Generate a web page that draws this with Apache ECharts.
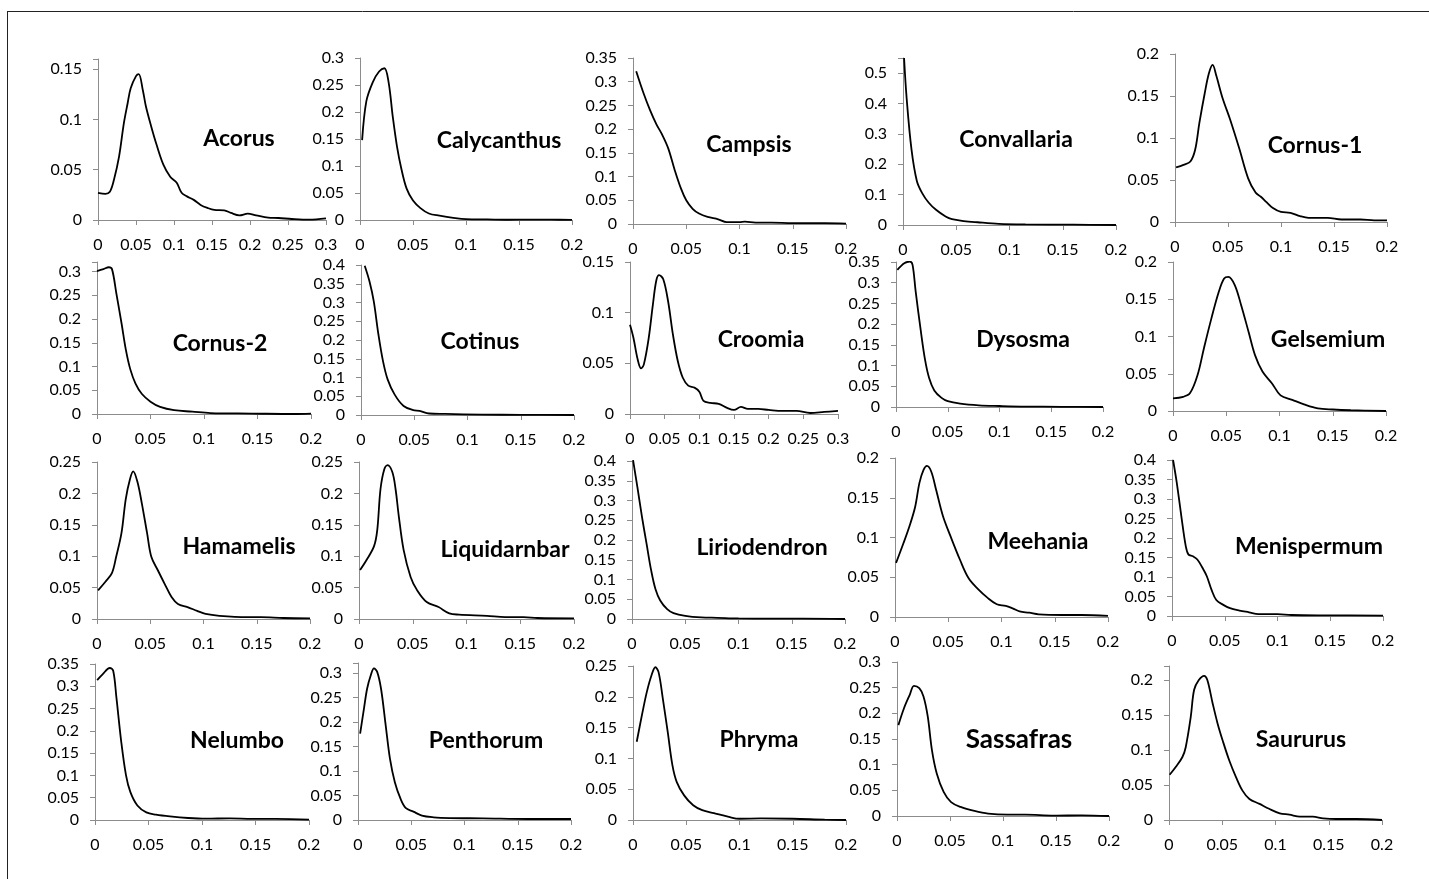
<!DOCTYPE html>
<html>
<head>
<meta charset="utf-8">
<script src="https://cdn.jsdelivr.net/npm/echarts@6/dist/echarts.min.js"></script>
<style>
  html, body { margin: 0; padding: 0; background: #fff; }
  #chart { width: 1429px; height: 879px; }
</style>
</head>
<body>
<div id="chart"></div>
<script>
// Panel names, in reading order (5 per row)
const names = [
  'Acorus', 'Calycanthus', 'Campsis', 'Convallaria', 'Cornus-1',
  'Cornus-2', 'Cotinus', 'Croomia', 'Dysosma', 'Gelsemium',
  'Hamamelis', 'Liquidarnbar', 'Liriodendron', 'Meehania', 'Menispermum',
  'Nelumbo', 'Penthorum', 'Phryma', 'Sassafras', 'Saururus'
];

// Axis ranges per panel: x max, y max, y tick step
const xMax  = [0.3, 0.2, 0.2, 0.2, 0.2,  0.2, 0.2, 0.3, 0.2, 0.2,  0.2, 0.2, 0.2, 0.2, 0.2,  0.2, 0.2, 0.2, 0.2, 0.2];
const yMax  = [0.16, 0.3, 0.35, 0.55, 0.2,  0.32, 0.4, 0.15, 0.35, 0.2,  0.25, 0.25, 0.4, 0.2, 0.4,  0.35, 0.32, 0.25, 0.3, 0.22];
const yStep = [0.05, 0.05, 0.05, 0.1, 0.05,  0.05, 0.05, 0.05, 0.05, 0.05,  0.05, 0.05, 0.05, 0.05, 0.05,  0.05, 0.05, 0.05, 0.05, 0.05];

// Distribution curves, [x, density] pairs
const acorus = [[0,0.027],[0.0098,0.026],[0.0156,0.028],[0.021,0.04],[0.0277,0.063],[0.034,0.096],[0.039,0.116],[0.043,0.131],[0.05,0.143],[0.0536,0.145],[0.059,0.129],[0.063,0.113],[0.07,0.093],[0.077,0.075],[0.086,0.055],[0.095,0.043],[0.1036,0.037],[0.11,0.027],[0.117,0.0235],[0.126,0.02],[0.135,0.015],[0.144,0.012],[0.153,0.01],[0.166,0.0096],[0.175,0.007],[0.186,0.0046],[0.197,0.0063],[0.208,0.0046],[0.224,0.0023],[0.2375,0.002],[0.255,0.001],[0.278,0.0003],[0.3,0.0017]];
const calycanthus = [[0.002,0.148],[0.006,0.22],[0.012,0.255],[0.018,0.275],[0.023,0.281],[0.027,0.255],[0.031,0.19],[0.035,0.135],[0.039,0.095],[0.044,0.058],[0.05,0.036],[0.057,0.022],[0.065,0.012],[0.075,0.008],[0.088,0.004],[0.1,0.0015],[0.12,0.001],[0.14,0.0005],[0.16,0.0008],[0.18,0.0006],[0.2,0.0003]];
const campsis = [[0.003,0.322],[0.01,0.275],[0.016,0.24],[0.022,0.21],[0.027,0.19],[0.033,0.16],[0.039,0.115],[0.045,0.075],[0.05,0.05],[0.056,0.032],[0.062,0.022],[0.07,0.015],[0.08,0.01],[0.088,0.004],[0.1,0.004],[0.105,0.005],[0.115,0.003],[0.13,0.003],[0.15,0.002],[0.18,0.002],[0.2,0.001]];
const convallaria = [[0.001,0.55],[0.0035,0.414],[0.008,0.248],[0.013,0.145],[0.018,0.105],[0.024,0.074],[0.031,0.05],[0.04,0.028],[0.046,0.019],[0.057,0.013],[0.07,0.009],[0.09,0.004],[0.115,0.002],[0.16,0.001],[0.2,0]];
const cornus1 = [[0.001,0.065],[0.008,0.068],[0.0145,0.072],[0.019,0.086],[0.023,0.118],[0.028,0.153],[0.032,0.177],[0.0355,0.187],[0.039,0.174],[0.045,0.147],[0.052,0.122],[0.0605,0.088],[0.069,0.052],[0.076,0.035],[0.081,0.03],[0.086,0.024],[0.092,0.017],[0.1,0.012],[0.109,0.011],[0.118,0.007],[0.126,0.005],[0.144,0.005],[0.157,0.003],[0.175,0.003],[0.188,0.002],[0.2,0.002]];
const cornus2 = [[0,0.301],[0.006,0.305],[0.011,0.309],[0.014,0.305],[0.018,0.255],[0.023,0.19],[0.027,0.135],[0.031,0.095],[0.036,0.064],[0.042,0.042],[0.05,0.026],[0.059,0.015],[0.072,0.008],[0.089,0.005],[0.106,0.002],[0.145,0.001],[0.184,0],[0.2,0.001]];
const cotinus = [[0.0035,0.398],[0.008,0.356],[0.012,0.303],[0.0164,0.214],[0.0207,0.143],[0.025,0.095],[0.0315,0.055],[0.04,0.024],[0.049,0.013],[0.055,0.011],[0.064,0.004],[0.079,0.003],[0.114,0.001],[0.15,0.0005],[0.2,0]];
const croomia = [[0,0.088],[0.005,0.075],[0.011,0.054],[0.016,0.045],[0.02,0.049],[0.027,0.075],[0.033,0.108],[0.038,0.132],[0.042,0.137],[0.048,0.133],[0.055,0.111],[0.062,0.078],[0.069,0.052],[0.076,0.036],[0.084,0.028],[0.093,0.026],[0.1,0.022],[0.106,0.013],[0.116,0.011],[0.128,0.01],[0.14,0.006],[0.15,0.004],[0.16,0.007],[0.17,0.005],[0.185,0.005],[0.2,0.004],[0.22,0.003],[0.24,0.003],[0.26,0.001],[0.28,0.002],[0.3,0.003]];
const dysosma = [[0.0013,0.331],[0.008,0.347],[0.0135,0.351],[0.016,0.343],[0.019,0.279],[0.024,0.183],[0.028,0.115],[0.032,0.07],[0.037,0.04],[0.044,0.022],[0.05,0.014],[0.062,0.008],[0.08,0.004],[0.1,0.0024],[0.125,0.001],[0.16,0.0005],[0.2,0]];
const gelsemium = [[0,0.017],[0.0096,0.019],[0.016,0.024],[0.023,0.048],[0.029,0.084],[0.036,0.124],[0.043,0.16],[0.048,0.178],[0.052,0.18],[0.058,0.169],[0.064,0.142],[0.071,0.106],[0.077,0.075],[0.084,0.053],[0.093,0.037],[0.101,0.021],[0.112,0.015],[0.123,0.009],[0.136,0.0036],[0.15,0.002],[0.167,0.001],[0.2,0]];
const hamamelis = [[0.001,0.0457],[0.0077,0.059],[0.014,0.073],[0.018,0.099],[0.023,0.137],[0.027,0.191],[0.031,0.223],[0.034,0.235],[0.038,0.218],[0.042,0.185],[0.047,0.137],[0.051,0.099],[0.057,0.078],[0.0635,0.056],[0.07,0.035],[0.076,0.024],[0.085,0.019],[0.094,0.013],[0.102,0.008],[0.115,0.005],[0.141,0.003],[0.154,0.003],[0.175,0.0016],[0.2,0.001]];
const liquidarnbar = [[0.001,0.078],[0.007,0.094],[0.014,0.116],[0.017,0.142],[0.02,0.207],[0.0236,0.239],[0.0266,0.245],[0.031,0.234],[0.034,0.207],[0.037,0.164],[0.0415,0.11],[0.048,0.067],[0.054,0.046],[0.063,0.027],[0.074,0.019],[0.084,0.009],[0.093,0.007],[0.119,0.005],[0.136,0.003],[0.153,0.003],[0.166,0.0016],[0.2,0.001]];
const liriodendron = [[0.001,0.402],[0.005,0.335],[0.0094,0.258],[0.0137,0.19],[0.018,0.123],[0.022,0.076],[0.0265,0.047],[0.033,0.025],[0.039,0.015],[0.05,0.008],[0.065,0.004],[0.08,0.003],[0.1,0.0015],[0.13,0.001],[0.16,0.001],[0.2,0]];
const meehania = [[0.001,0.068],[0.008,0.093],[0.0145,0.118],[0.019,0.139],[0.023,0.169],[0.0268,0.185],[0.03,0.19],[0.034,0.183],[0.0386,0.16],[0.045,0.127],[0.052,0.102],[0.061,0.072],[0.069,0.049],[0.078,0.035],[0.087,0.024],[0.0956,0.016],[0.104,0.014],[0.111,0.0105],[0.117,0.007],[0.126,0.0054],[0.135,0.0033],[0.157,0.0025],[0.175,0.0025],[0.2,0.0013]];
const menispermum = [[0.001,0.4],[0.0044,0.344],[0.0088,0.257],[0.013,0.18],[0.0155,0.158],[0.02,0.153],[0.024,0.145],[0.029,0.123],[0.033,0.102],[0.0375,0.067],[0.042,0.041],[0.0486,0.0285],[0.055,0.02],[0.064,0.014],[0.073,0.0095],[0.082,0.005],[0.1,0.005],[0.113,0.0026],[0.148,0.0017],[0.2,0.001]];
const nelumbo = [[0.002,0.314],[0.0073,0.3275],[0.0138,0.341],[0.017,0.335],[0.02,0.275],[0.0245,0.176],[0.029,0.1],[0.033,0.063],[0.0396,0.0325],[0.048,0.017],[0.057,0.012],[0.07,0.008],[0.087,0.0045],[0.104,0.003],[0.126,0.0038],[0.147,0.0023],[0.169,0.0023],[0.2,0.001]];
const penthorum = [[0.002,0.176],[0.0056,0.227],[0.0086,0.268],[0.012,0.295],[0.015,0.309],[0.018,0.302],[0.0216,0.268],[0.026,0.193],[0.03,0.125],[0.0346,0.077],[0.04,0.043],[0.045,0.024],[0.052,0.017],[0.06,0.0089],[0.071,0.0055],[0.086,0.004],[0.117,0.0034],[0.16,0.002],[0.2,0.002]];
const phryma = [[0.0035,0.127],[0.0087,0.173],[0.013,0.208],[0.0174,0.235],[0.021,0.248],[0.024,0.24],[0.028,0.197],[0.0326,0.143],[0.037,0.089],[0.041,0.062],[0.048,0.04],[0.0565,0.024],[0.065,0.016],[0.076,0.011],[0.09,0.005],[0.1,0.002],[0.12,0.0025],[0.15,0.002],[0.18,0.0005],[0.2,0]];
const sassafras = [[0.0013,0.177],[0.0066,0.21],[0.012,0.236],[0.016,0.2536],[0.021,0.249],[0.025,0.233],[0.029,0.194],[0.033,0.128],[0.0375,0.083],[0.044,0.047],[0.051,0.027],[0.06,0.0176],[0.073,0.0098],[0.086,0.0046],[0.104,0.0026],[0.121,0.0026],[0.148,0.0007],[0.174,0.0013],[0.2,0]];
const saururus = [[0.0006,0.0646],[0.0063,0.0756],[0.0126,0.09],[0.0157,0.104],[0.0204,0.147],[0.0236,0.186],[0.028,0.2],[0.033,0.206],[0.036,0.2],[0.041,0.1665],[0.0456,0.138],[0.0503,0.114],[0.0566,0.085],[0.063,0.061],[0.069,0.042],[0.0755,0.03],[0.085,0.023],[0.094,0.016],[0.104,0.0096],[0.113,0.0077],[0.123,0.0048],[0.135,0.0048],[0.1447,0.0024],[0.157,0.0014],[0.176,0.0014],[0.2,0]];

const curves = [
  acorus, calycanthus, campsis, convallaria, cornus1,
  cornus2, cotinus, croomia, dysosma, gelsemium,
  hamamelis, liquidarnbar, liriodendron, meehania, menispermum,
  nelumbo, penthorum, phryma, sassafras, saururus
];

// Plot boxes in pixels: [left, right, top (y max), bottom (y = 0)] and name label centre
const boxes = [
  [98, 326, 59, 220], [360, 572, 58, 220], [633, 846, 58, 224], [903, 1116, 58, 225], [1175, 1387, 54, 222],
  [97, 311, 262, 414], [361, 574, 265, 415], [630, 838, 262, 414], [896, 1103, 262, 407], [1173, 1386, 262, 411],
  [97, 310, 462, 619], [359, 574, 462, 619], [632, 845, 461, 619], [895, 1108, 458, 617], [1172, 1383, 460, 616],
  [95, 309, 664, 820], [358, 571, 663, 820], [633, 846, 666, 820], [897, 1109, 662, 816], [1169, 1382, 666, 820]
];
const labelPos = [
  [239, 139], [499, 141], [749, 145], [1016, 140], [1315, 146],
  [220, 344], [480, 342], [761, 340], [1023, 340], [1328, 340],
  [239, 547], [505, 550], [762, 548], [1038, 542], [1309, 547],
  [237, 741], [486, 741], [759, 740], [1019, 740], [1301, 740]
];

const FONT = 'Lato, "Open Sans", sans-serif';
const axisGray = '#8c8c8c';

function stepLabel(step) {
  return function (v) {
    const k = v / step;
    if (Math.abs(k - Math.round(k)) > 1e-6) return '';
    return String(+v.toFixed(3));
  };
}

const grid = [], xAxis = [], yAxis = [], series = [], graphic = [];

names.forEach(function (name, i) {
  const b = boxes[i];
  grid.push({ left: b[0], top: b[2], width: b[1] - b[0], height: b[3] - b[2], containLabel: false });
  xAxis.push({
    type: 'value', gridIndex: i, min: 0, max: xMax[i], interval: 0.05,
    axisLine: { show: true, onZero: false, lineStyle: { color: axisGray, width: 1 } },
    axisTick: { show: true, length: 5, lineStyle: { color: axisGray } },
    splitLine: { show: false },
    axisLabel: { color: '#000', fontFamily: FONT, fontSize: 16, margin: 17, formatter: stepLabel(0.05) }
  });
  yAxis.push({
    type: 'value', gridIndex: i, min: 0, max: yMax[i], interval: yStep[i],
    axisLine: { show: true, lineStyle: { color: axisGray, width: 1 } },
    axisTick: { show: true, length: 5, lineStyle: { color: axisGray } },
    splitLine: { show: false },
    axisLabel: { color: '#000', fontFamily: FONT, fontSize: 16, margin: 16, formatter: stepLabel(yStep[i]) }
  });
  series.push({
    type: 'line', xAxisIndex: i, yAxisIndex: i, data: curves[i],
    smooth: 0.35, showSymbol: false, silent: true,
    lineStyle: { color: '#000', width: 1.8 }
  });
  graphic.push({
    type: 'text', x: labelPos[i][0], y: labelPos[i][1], silent: true,
    style: {
      text: name, fill: '#000', textAlign: 'center', textVerticalAlign: 'middle',
      font: 'bold ' + (name === 'Sassafras' ? 26 : 23) + 'px ' + FONT
    }
  });
});

// Outer frame (top and left edges)
graphic.push({ type: 'line', shape: { x1: 7, y1: 11.5, x2: 1429, y2: 11.5 }, style: { stroke: '#222', lineWidth: 1 } });
graphic.push({ type: 'line', shape: { x1: 7.5, y1: 11, x2: 7.5, y2: 879 }, style: { stroke: '#222', lineWidth: 1 } });

const chart = echarts.init(document.getElementById('chart'), null, { renderer: 'canvas' });
chart.setOption({
  animation: false,
  backgroundColor: '#fff',
  grid: grid, xAxis: xAxis, yAxis: yAxis, series: series, graphic: graphic
});
</script>
</body>
</html>
